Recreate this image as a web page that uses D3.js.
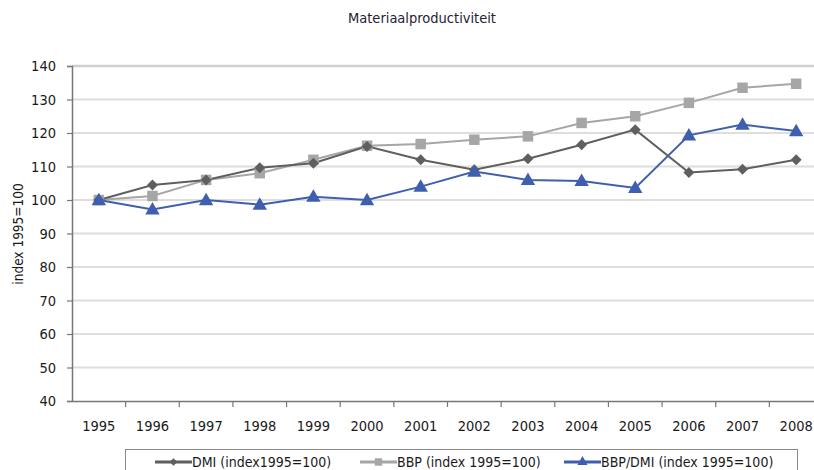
<!DOCTYPE html>
<html><head><meta charset="utf-8">
<script src="https://cdn.jsdelivr.net/npm/d3@7"></script>
<style>body{margin:0;background:#fff;} svg{display:block;}</style>
</head><body>
<svg id="c" width="814" height="470"></svg>
<script>
const years = ["1995","1996","1997","1998","1999","2000","2001","2002","2003","2004","2005","2006","2007","2008"];
const dmi = [100,104.5,106,109.6,111,116,112,109,112.3,116.5,121,108.2,109.2,112];
const bbp = [100,101.2,106,108,112,116.2,116.7,118,119,123,125,129,133.5,134.7];
const ratio = [100,97.2,100,98.6,101,100,104,108.5,106,105.7,103.6,119.3,122.5,120.6];
const yTicks = [40,50,60,70,80,90,100,110,120,130,140];
const seriesNames = ["DMI (index1995=100)","BBP (index 1995=100)","BBP/DMI (index 1995=100)"];

const font = "'DejaVu Sans Condensed','DejaVu Sans',sans-serif";
const svg = d3.select("#c");
const L = 72, R = 823, T = 66, B = 401;
const x = d3.scaleBand().domain(years).range([L, R]).padding(0);
const y = d3.scaleLinear().domain([40,140]).range([B, T]);

// gridlines
svg.append("g").selectAll("line").data(yTicks.filter(d=>d>40)).join("line")
  .attr("x1", L).attr("x2", R).attr("y1", d=>y(d)).attr("y2", d=>y(d))
  .attr("stroke", d=> d===140 ? "#cfcfcf" : "#dedede").attr("stroke-width", d=> d===140 ? 2.5 : 1.8);

// y axis
const ya = svg.append("g").attr("transform", `translate(${L},0)`)
  .call(d3.axisLeft(y).tickValues(yTicks).tickSize(5).tickPadding(11));
ya.select(".domain").attr("stroke", "#777").attr("stroke-width", 1.5);
ya.selectAll(".tick line").attr("stroke", "#777").attr("stroke-width", 1.2);
ya.selectAll("text").attr("font-family", font).attr("font-size", 14.5).attr("fill", "#1a1a1a");

// x axis
const xa = svg.append("g").attr("transform", `translate(0,${B})`)
  .call(d3.axisBottom(x).tickSize(0).tickPadding(20));
xa.select(".domain").attr("stroke", "#777").attr("stroke-width", 1.5);
xa.selectAll("text").attr("font-family", font).attr("font-size", 14.5).attr("fill", "#1a1a1a");
svg.append("g").selectAll("line").data(years.slice(1)).join("line")
  .attr("x1", d=>x(d)).attr("x2", d=>x(d)).attr("y1", B).attr("y2", B+6)
  .attr("stroke", "#777").attr("stroke-width", 1.2);

const cx = (d,i) => x(years[i]) + x.bandwidth()/2;
const line = d3.line().x((d,i)=>cx(d,i)).y(d=>y(d));

const series = [
  {name: seriesNames[0], data: dmi, color: "#5f5f5f", sym: d3.symbolSquare, size: 60, rot: 45},
  {name: seriesNames[1], data: bbp, color: "#a6a6a6", sym: d3.symbolSquare, size: 110, rot: 0},
  {name: seriesNames[2], data: ratio, color: "#3f5fae", sym: d3.symbolTriangle, size: 90, rot: 0}
];

const order = [1,0,2];
order.forEach(k => {
  const s = series[k];
  svg.append("path").datum(s.data).attr("d", line).attr("fill","none")
    .attr("stroke", s.color).attr("stroke-width", 2);
});
order.forEach(k => {
  const s = series[k];
  svg.append("g").selectAll("path").data(s.data).join("path")
    .attr("d", d3.symbol().type(s.sym).size(s.size))
    .attr("transform", (d,i)=>`translate(${cx(d,i)},${y(d) + (s.sym===d3.symbolTriangle?1:0)}) rotate(${s.rot})`)
    .attr("fill", s.color);
});

// title
svg.append("text").attr("x", 422).attr("y", 23).attr("text-anchor","middle")
  .attr("font-family", font).attr("font-size", 14.5).attr("fill", "#1f2233").text("Materiaalproductiviteit");

// y label
svg.append("text").attr("transform", "translate(23,234) rotate(-90)").attr("text-anchor","middle")
  .attr("font-family", font).attr("font-size", 13.5).attr("fill", "#1a1a1a").text("index 1995=100");

// legend
svg.append("rect").attr("x", 125.5).attr("y", 449.5).attr("width", 672).attr("height", 40)
  .attr("fill","none").attr("stroke","#888").attr("stroke-width",1);
const legX = [155, 360, 564];
series.forEach((s,i) => {
  const g = svg.append("g").attr("transform", `translate(${legX[i]},462)`);
  g.append("line").attr("x1",0).attr("x2",37).attr("stroke", s.color).attr("stroke-width", 3);
  g.append("path").attr("d", d3.symbol().type(s.sym).size(s.size*0.5)).attr("transform",`translate(18.5,0) rotate(${s.rot})`).attr("fill", s.color);
  g.append("text").attr("x", 37).attr("y", 5).attr("font-family", font).attr("font-size", 14)
    .attr("fill","#1a1a1a").text(s.name);
});
</script>
</body></html>
